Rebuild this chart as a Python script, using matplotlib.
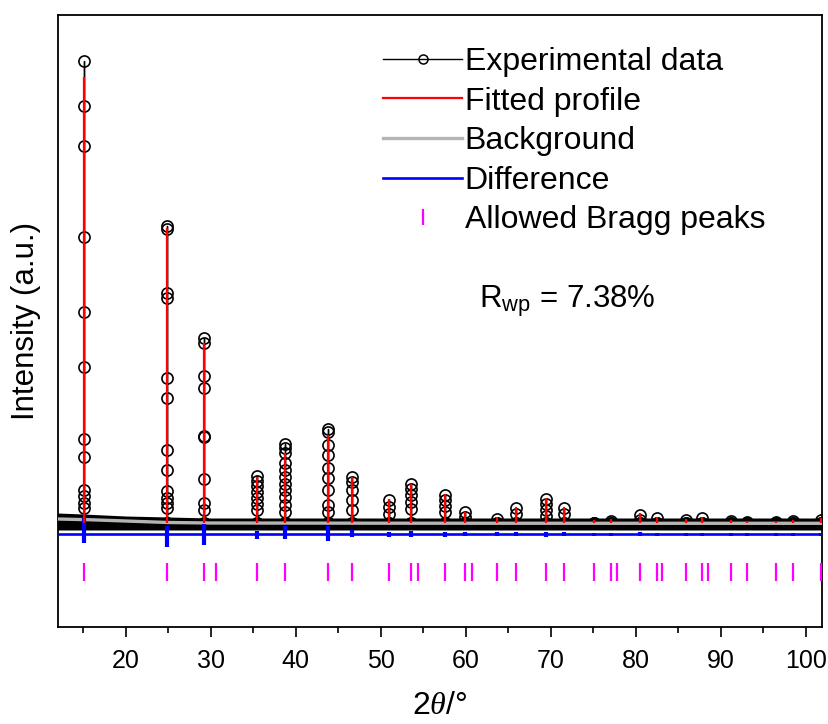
import numpy as np
import matplotlib
matplotlib.use("Agg")
import matplotlib.pyplot as plt
from matplotlib.lines import Line2D

plt.rcParams['font.family'] = ['Liberation Sans', 'DejaVu Sans']
plt.rcParams['mathtext.fontset'] = 'custom'
plt.rcParams['mathtext.rm'] = 'Liberation Sans'
plt.rcParams['mathtext.it'] = 'Liberation Serif:italic'

# peak positions (2theta) and heights (arb. counts)
peak_pos = [15.13, 24.86, 29.25, 35.48, 38.78, 43.84, 46.59, 51.01, 53.56, 57.56,
            59.92, 63.68, 65.88, 69.45, 71.56, 75.06, 77.09, 80.51, 82.54, 85.88,
            87.84, 91.15, 93.13, 96.47, 98.47, 101.8]
obs_pts = [
    [5660, 5210, 4810, 3900, 3150, 2600, 1880, 1700, 1370, 1310, 1240, 1190],
    [4010, 3980, 3340, 3290, 2490, 2290, 1770, 1570, 1360, 1290, 1240, 1190],
    [2890, 2840, 2510, 2390, 1910, 1900, 1480, 1240, 1170],
    [1510, 1460, 1410, 1350, 1290, 1230, 1170],
    [1830, 1790, 1740, 1640, 1570, 1500, 1430, 1370, 1300, 1220, 1150],
    [1980, 1950, 1820, 1720, 1590, 1490, 1370, 1220, 1150],
    [1500, 1450, 1370, 1270, 1170],
    [1270, 1200, 1130],
    [1430, 1380, 1320, 1250, 1180],
    [1320, 1270, 1210, 1150],
    [1150, 1100],
    [1080],
    [1190, 1130],
    [1280, 1230, 1170, 1110],
    [1190, 1130],
    [1040],
    [1060],
    [1120, 1070],
    [1090],
    [1070],
    [1090],
    [1060],
    [1050],
    [1050],
    [1060],
    [1070],
]
calc_top = [5500, 3990, 2840, 1500, 1740, 1920, 1500, 1280, 1430, 1330,
            1150, 1100, 1200, 1290, 1200, 1070, 1080, 1140, 1100, 1080,
            1100, 1070, 1060, 1060, 1070, 1090]
calc_base = 1040

# dense experimental points along the baseline (band envelope)
band_x = [12.0, 15.0, 20.0, 25.0, 30.0, 40.0, 101.9]
band_hi = [1140, 1130, 1110, 1100, 1090, 1090, 1090]
band_lo = [970, 970, 970, 970, 970, 970, 970]

# refined background
bg_x = [12.0, 16.0, 20.0, 25.0, 30.0, 50.0, 80.0, 101.9]
bg_y = [1080, 1072, 1060, 1045, 1040, 1038, 1037, 1037]

# difference curve (offset) with spikes at peaks
diff_base = 930
diff_hi = [1100, 1010, 1030, 960, 1010, 1010, 970, 955, 960, 955, 950, 950, 950,
           955, 950, 945, 945, 950, 945, 945, 945, 945, 945, 945, 945, 945]
diff_lo = [840, 800, 820, 880, 880, 860, 900, 905, 900, 905, 910, 910, 910,
           905, 910, 915, 915, 910, 915, 915, 915, 915, 915, 915, 915, 915]

# allowed Bragg reflections
bragg = [15.13, 24.86, 29.25, 30.62, 35.48, 38.78, 43.84, 46.59, 51.01, 53.56,
         54.35, 57.56, 59.92, 60.71, 63.68, 65.88, 69.45, 71.56, 75.06, 77.09,
         77.76, 80.51, 82.54, 83.13, 85.88, 87.84, 88.47, 91.15, 93.13, 96.47,
         98.47, 101.8]
bragg_y = 555

fig = plt.figure(figsize=(8.29, 7.24), dpi=100)
ax = fig.add_axes([58/829, 97/724, 764/829, 612/724])

# experimental: baseline band + points on the peaks
ax.fill_between(band_x, band_lo, band_hi, color='k', lw=0, zorder=1)
ox, oy = [], []
for p, pts in zip(peak_pos, obs_pts):
    ys = [calc_base] + sorted(pts) + [calc_base]
    ox += [p] * len(ys)
    oy += ys
ax.plot(ox, oy, color='k', lw=1, marker='o', ms=8, mfc='none', mew=1.2, zorder=2)

ax.plot(bg_x, bg_y, color='#b4b4b4', lw=2.4, zorder=3)
ax.vlines(peak_pos, calc_base, calc_top, color='#ff0000', lw=1.6, zorder=4)

ax.hlines(diff_base, 12.0, 101.9, color='#0000ff', lw=1.9, zorder=3)
ax.vlines(peak_pos, diff_lo, diff_hi, color='#0000ff', lw=3, zorder=3)

ax.plot(bragg, [bragg_y] * len(bragg), ls='none', marker='|', ms=12.5, mew=1.6,
        color='#ff00ff', zorder=3)

ax.set_xlim(12.05, 101.9)
ax.set_ylim(0, 6120)
ax.set_yticks([])
ax.set_xticks(np.arange(20, 101, 10))
ax.set_xticks(np.arange(15, 101, 10), minor=True)
ax.tick_params(axis='x', which='major', direction='out', length=7.5, width=1.2,
               labelsize=18, pad=8)
ax.tick_params(axis='x', which='minor', direction='out', length=4, width=1.2)
for s in ax.spines.values():
    s.set_linewidth(1.3)

ax.set_xlabel(r'2$\theta$/°', fontsize=23, labelpad=13)
ax.set_ylabel('Intensity (a.u.)', fontsize=22.5, labelpad=12)

handles = [
    Line2D([], [], color='k', lw=1, marker='o', ms=6.5, mfc='none', mew=1.1),
    Line2D([], [], color='#ff0000', lw=1.6),
    Line2D([], [], color='#b4b4b4', lw=2.4),
    Line2D([], [], color='#0000ff', lw=1.9),
    Line2D([], [], ls='none', marker='|', ms=12, mew=1.6, color='#ff00ff'),
]
labels = ['Experimental data', 'Fitted profile', 'Background', 'Difference',
          'Allowed Bragg peaks']
fig.legend(handles, labels, loc='upper left', bbox_to_anchor=(383/829, 1 - 47/724),
           frameon=False, fontsize=23, borderpad=0, borderaxespad=0,
           handlelength=2.48, handletextpad=0.08, labelspacing=0.3)

fig.text(479/829, 1 - 307/724, r'R$_\mathregular{wp}$ = 7.38%', fontsize=22.5,
         va='baseline', ha='left')

fig.savefig('out.png', dpi=100)
